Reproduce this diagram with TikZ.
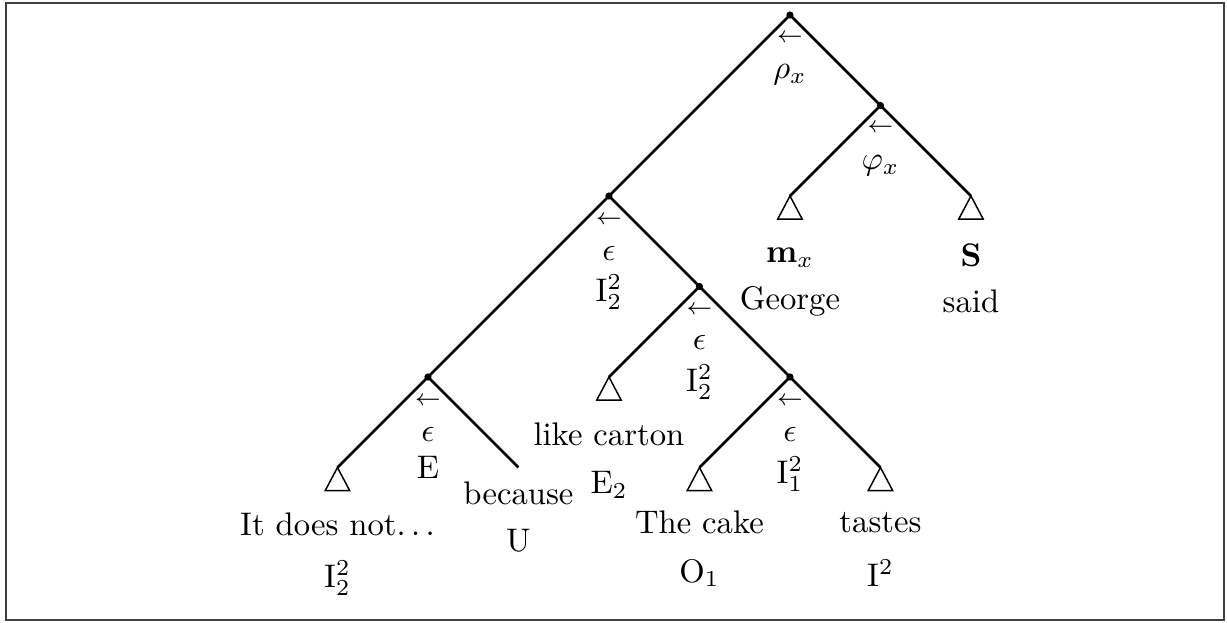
\documentclass[tikz,border=0pt]{standalone}
\usepackage{amsmath}
\usetikzlibrary{calc}

\tikzset{
  branch/.style={line width=0.8pt},
  knot/.style={circle, fill, inner sep=0pt, minimum size=2.2pt},
  lab/.style={inner sep=0pt},
  arrowlab/.style={inner sep=0pt, font=\scriptsize},
  rooftri/.style={line width=0.45pt},
}
\newcommand{\roof}[1]{\draw[rooftri] (#1) -- ++(-0.135,-0.255) -- ++(0.27,0) -- cycle;}

\begin{document}
\begin{tikzpicture}[x=0.973cm, y=0.973cm]
\useasboundingbox (-8.729,0.1657) rectangle (4.829,-6.718);
\draw[black!75, line width=0.5pt] (-8.663,0.1326) rectangle (4.796,-6.685);

% inner nodes
\node[knot] (nR) at (0,0) {};
\node[knot] (nPhi) at (1,-1) {};
\node[knot] (nL) at (-2,-2) {};
\node[knot] (nC) at (-4,-4) {};
\node[knot] (nD) at (-1,-3) {};
\node[knot] (nF) at (0,-4) {};

% leaves
\coordinate (nM) at (0,-2);
\coordinate (nS) at (2,-2);
\coordinate (nIt) at (-5,-5);
\coordinate (nBec) at (-3,-5);
\coordinate (nLike) at (-2,-4);
\coordinate (nCake) at (-1,-5);
\coordinate (nTastes) at (1,-5);

% branches
\draw[branch] (nR.center) -- (nL.center);
\draw[branch] (nR.center) -- (nPhi.center);
\draw[branch] (nPhi.center) -- (nM);
\draw[branch] (nPhi.center) -- (nS);
\draw[branch] (nL.center) -- (nC.center);
\draw[branch] (nL.center) -- (nD.center);
\draw[branch] (nC.center) -- (nIt);
\draw[branch] (nC.center) -- (nBec);
\draw[branch] (nD.center) -- (nLike);
\draw[branch] (nD.center) -- (nF.center);
\draw[branch] (nF.center) -- (nCake);
\draw[branch] (nF.center) -- (nTastes);

\roof{nM} \roof{nS} \roof{nIt} \roof{nLike} \roof{nCake} \roof{nTastes}

% labels under inner nodes
\node[arrowlab] (aR) at ($(nR)+(0,-0.26)$) {$\leftarrow$};
\node[lab] (tR) at ($(nR)+(0,-0.66)$) {$\rho_x$};
\node[arrowlab] (aPhi) at ($(nPhi)+(0,-0.255)$) {$\leftarrow$};
\node[lab] (tPhi) at ($(nPhi)+(0,-0.67)$) {$\varphi_x$};
\node[arrowlab] (aL) at ($(nL)+(0,-0.27)$) {$\leftarrow$};
\node[lab] (eL) at ($(nL)+(0,-0.63)$) {$\epsilon$};
\node[lab] (tL) at ($(nL)+(0,-1.06)$) {$\mathrm{I}_2^2$};
\node[arrowlab] (aD) at ($(nD)+(0,-0.265)$) {$\leftarrow$};
\node[lab] (eD) at ($(nD)+(0,-0.62)$) {$\epsilon$};
\node[lab] (tD) at ($(nD)+(0,-1.06)$) {$\mathrm{I}_2^2$};
\node[arrowlab] (aC) at ($(nC)+(0,-0.27)$) {$\leftarrow$};
\node[lab] (eC) at ($(nC)+(0,-0.63)$) {$\epsilon$};
\node[lab] (tC) at ($(nC)+(0,-1.0)$) {E};
\node[arrowlab] (aF) at ($(nF)+(0,-0.27)$) {$\leftarrow$};
\node[lab] (eF) at ($(nF)+(0,-0.63)$) {$\epsilon$};
\node[lab] (tF) at ($(nF)+(0,-1.07)$) {$\mathrm{I}_1^2$};

% labels under leaves
\node[lab] (wM) at ($(nM)+(0,-0.68)$) {$\mathbf{m}_x$};
\node[lab] (gM) at ($(nM)+(0,-1.16)$) {George};
\node[lab] (wS) at ($(nS)+(0,-0.65)$) {$\mathbf{S}$};
\node[lab] (gS) at ($(nS)+(0,-1.16)$) {said};
\node[lab] (wIt) at ($(nIt)+(0,-0.63)$) {It does not$\ldots$};
\node[lab] (gIt) at ($(nIt)+(0,-1.22)$) {$\mathrm{I}_2^2$};
\node[lab] (wBec) at ($(nBec)+(0,-0.29)$) {because};
\node[lab] (gBec) at ($(nBec)+(0,-0.81)$) {U};
\node[lab] (wLike) at ($(nLike)+(0,-0.63)$) {like carton};
\node[lab] (gLike) at ($(nLike)+(0,-1.19)$) {$\mathrm{E}_2$};
\node[lab] (wCake) at ($(nCake)+(0,-0.61)$) {The cake};
\node[lab] (gCake) at ($(nCake)+(0,-1.17)$) {$\mathrm{O}_1$};
\node[lab] (wTastes) at ($(nTastes)+(0,-0.61)$) {tastes};
\node[lab] (gTastes) at ($(nTastes)+(0,-1.17)$) {$\mathrm{I}^2$};
\end{tikzpicture}
\end{document}
